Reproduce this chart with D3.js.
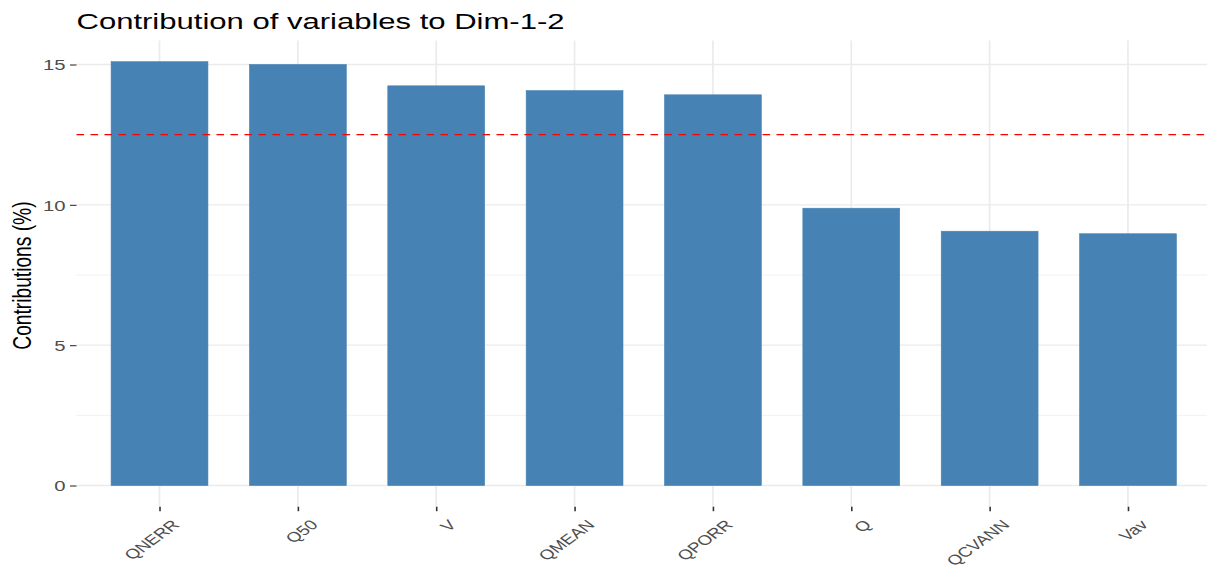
<!DOCTYPE html>
<html>
<head>
<meta charset="utf-8">
<script src="https://cdn.jsdelivr.net/npm/d3@7"></script>
<style>
  body { margin: 0; background: #fff; }
  text { font-family: "Liberation Sans", Arial, sans-serif; }
</style>
</head>
<body>
<svg id="chart" width="1207" height="567"></svg>
<script>
// contributions of variables to Dim-1-2
const variables = ["QNERR", "Q50", "V", "QMEAN", "QPORR", "Q", "QCVANN", "Vav"];
const contrib = [15.1, 15.0, 14.24, 14.07, 13.92, 9.88, 9.06, 8.97];
const yTicks = [0, 5, 10, 15];
const yMinor = [2.5, 7.5, 12.5];
const refLine = 100 / variables.length; // expected average contribution

// the picture is stretched sideways, so text gets the same stretch
const SX = 1.37;

const svg = d3.select("#chart");
const panel = { left: 76.5, right: 1211, top: 40.5, bottom: 506.7 };

const x = d3.scalePoint()
    .domain(variables)
    .range([panel.left, panel.right])
    .padding(0.6);

// ggplot style 5% expansion on the y range
const yMax = d3.max(contrib);
const y = d3.scaleLinear()
    .domain([-0.05 * yMax, yMax * 1.05])
    .range([panel.bottom, panel.top]);

const barW = x.step() * 0.7;

// grid
const grid = svg.append("g");
grid.selectAll(".minor").data(yMinor).join("line")
    .attr("x1", panel.left).attr("x2", panel.right)
    .attr("y1", d => y(d)).attr("y2", d => y(d))
    .attr("stroke", "#ebebeb").attr("stroke-width", 0.7);
grid.selectAll(".major").data(yTicks).join("line")
    .attr("x1", panel.left).attr("x2", panel.right)
    .attr("y1", d => y(d)).attr("y2", d => y(d))
    .attr("stroke", "#ebebeb").attr("stroke-width", 1.3);
grid.selectAll(".vert").data(variables).join("line")
    .attr("x1", d => x(d)).attr("x2", d => x(d))
    .attr("y1", panel.top).attr("y2", panel.bottom)
    .attr("stroke", "#ebebeb").attr("stroke-width", 1.7);

// bars
svg.append("g").selectAll("rect").data(variables).join("rect")
    .attr("x", d => x(d) - barW / 2)
    .attr("width", barW)
    .attr("y", (d, i) => y(contrib[i]))
    .attr("height", (d, i) => y(0) - y(contrib[i]))
    .attr("fill", "#4682b4")
    .attr("stroke", "#4682b4")
    .attr("stroke-width", 0.6);

// reference line
svg.append("line")
    .attr("x1", panel.left).attr("x2", panel.right)
    .attr("y1", y(refLine)).attr("y2", y(refLine))
    .attr("stroke", "red")
    .attr("stroke-width", 1.4)
    .attr("stroke-dasharray", "7.5,6.5");

// y axis
const yAxis = svg.append("g")
    .attr("transform", `translate(${panel.left},0)`)
    .call(d3.axisLeft(y).tickValues(yTicks).tickSize(6.5).tickFormat(d3.format("d")));
yAxis.select(".domain").remove();
yAxis.selectAll(".tick line").attr("stroke", "#333").attr("stroke-width", 1.1);
yAxis.selectAll(".tick text")
    .attr("x", null)
    .attr("dy", "0.36em")
    .attr("transform", `translate(-11,0) scale(${SX},1)`)
    .attr("text-anchor", "end")
    .attr("fill", "#4d4d4d")
    .style("font-size", "14.8px");

// x axis
const xAxis = svg.append("g")
    .attr("transform", `translate(0,${panel.bottom})`)
    .call(d3.axisBottom(x).tickSize(4.5));
xAxis.select(".domain").remove();
xAxis.selectAll(".tick line").attr("stroke", "#333").attr("stroke-width", 1.6);
xAxis.selectAll(".tick text")
    .attr("y", null)
    .attr("dy", "0.71em")
    .attr("transform", `translate(11,12) scale(${SX},1) rotate(-45)`)
    .attr("text-anchor", "end")
    .attr("fill", "#4d4d4d")
    .style("font-size", "13.8px");

// axis title
svg.append("text")
    .attr("transform", `translate(31,${(panel.top + panel.bottom) / 2 + 2}) scale(${SX},1) rotate(-90)`)
    .attr("text-anchor", "middle")
    .attr("fill", "#000")
    .style("font-size", "19.2px")
    .text("Contributions (%)");

// title
svg.append("text")
    .attr("x", 76.5)
    .attr("y", 28.5)
    .attr("textLength", 488)
    .attr("lengthAdjust", "spacingAndGlyphs")
    .attr("fill", "#000")
    .style("font-size", "22.5px")
    .text("Contribution of variables to Dim-1-2");
</script>
</body>
</html>
